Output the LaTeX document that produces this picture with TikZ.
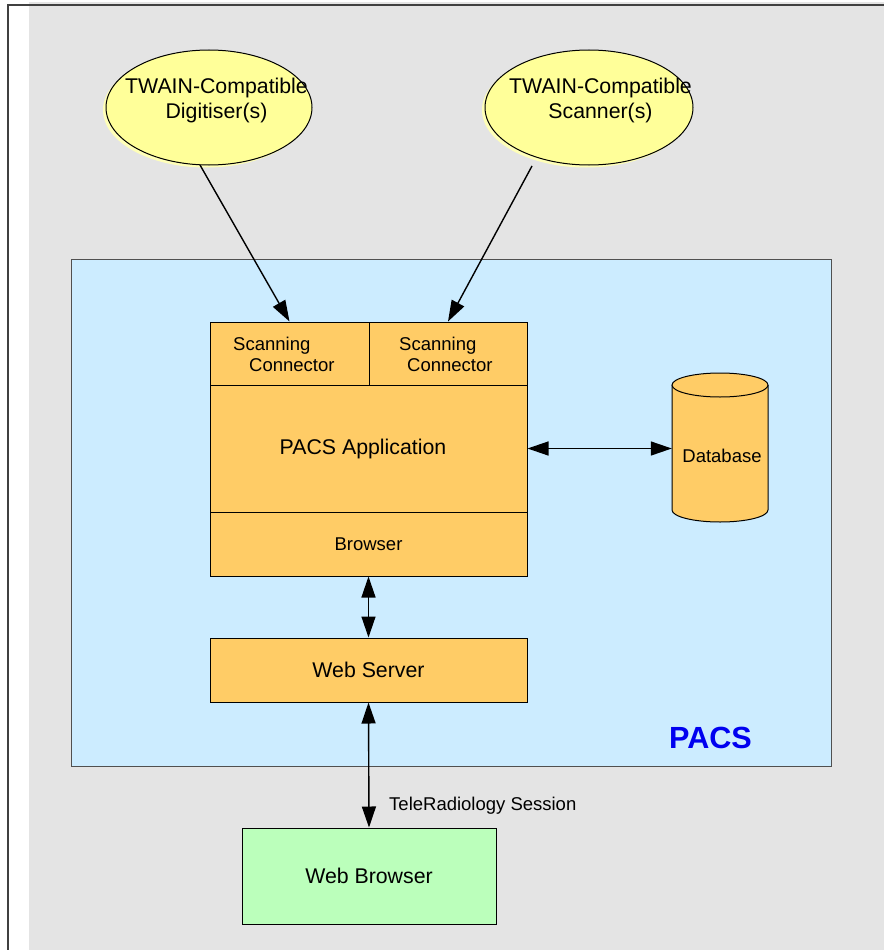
\documentclass[tikz,border=0pt]{standalone}
\usepackage{fontspec}
\setmainfont{Liberation Sans}
\usetikzlibrary{arrows.meta,shapes.geometric}
\definecolor{bggray}{HTML}{E4E4E4}
\definecolor{bordergray}{HTML}{404040}
\definecolor{pacsfill}{HTML}{CCECFF}
\definecolor{pacsline}{HTML}{505050}
\definecolor{orangebox}{HTML}{FFCC66}
\definecolor{yellowell}{HTML}{FFFF99}
\definecolor{yellowshadow}{HTML}{FFFFB8}
\definecolor{greenbox}{HTML}{BBFFBB}
\definecolor{pacsblue}{HTML}{0000F0}
\begin{document}
\begin{tikzpicture}[x=1pt,y=-1pt,
  box/.style={draw=black, line width=1pt, fill=orangebox, inner sep=0pt},
  ell/.style={ellipse, draw=black, line width=1pt, fill=yellowell, minimum width=206, minimum height=115, inner sep=0pt},
  bigtxt/.style={inner sep=0pt, font=\fontsize{21.3}{25}\selectfont, align=center},
  midtxt/.style={inner sep=0pt, font=\fontsize{18.5}{21}\selectfont, align=left},
  arr/.style={line width=1.4pt, -{Triangle[length=21pt,width=14pt]}},
  darr/.style={line width=1.4pt, {Triangle[length=21pt,width=14pt]}-{Triangle[length=21pt,width=14pt]}}
]
\useasboundingbox (0,0) rectangle (884,950);
\fill[white] (0,0) rectangle (884,950);
\fill[bggray] (29,2) rectangle (884,950);
\draw[bordergray, line width=1.5pt] (8,950) -- (8,5) -- (884,5);

% ellipses
\fill[yellowshadow] (206,110) ellipse [x radius=103pt, y radius=57.5pt];
\node[ell] (e1) at (209,107.5) {};
\node[bigtxt] (e1t) at (216.5,100) {TWAIN-Compatible\\Digitiser(s)};
\fill[yellowshadow] (586,110) ellipse [x radius=104pt, y radius=57.5pt];
\node[ell, minimum width=208] (e2) at (589,107.5) {};
\node[bigtxt] (e2t) at (600.5,100) {TWAIN-Compatible\\Scanner(s)};

% PACS container
\node[draw=pacsline, line width=1pt, fill=pacsfill, minimum width=760, minimum height=507, inner sep=0pt] (pacs) at (451,512.5) {};
\node[inner sep=0pt, text=pacsblue, font=\fontsize{30.6}{36}\selectfont\bfseries] (pacslbl) at (710.5,738) {PACS};

% application stack
\node[box, minimum width=159, minimum height=63] (sc1) at (289.5,353.5) {};
\node[box, minimum width=158, minimum height=63] (sc2) at (448,353.5) {};
\node[midtxt, anchor=west] (sc1t) at (233,354.5) {Scanning\\\hspace{16pt}Connector};
\node[midtxt, anchor=west] (sc2t) at (399,354.5) {Scanning\\\hspace{8pt}Connector};
\node[box, minimum width=317, minimum height=127] (app) at (368.5,448.5) {};
\node[bigtxt] (appt) at (363,449) {PACS Application};
\node[box, minimum width=317, minimum height=64, font=\fontsize{18.5}{21}\selectfont] (brw) at (368.5,544) {Browser};
\node[box, minimum width=317, minimum height=64, font=\fontsize{21.3}{25}\selectfont] (ws) at (368.5,670) {Web Server};

% database cylinder
\node[inner sep=0pt, minimum width=96, minimum height=149] (db) at (720,448.5) {};
\fill[orangebox] (672,385) rectangle (768,510);
\fill[orangebox] (720,510) ellipse [x radius=48pt, y radius=12pt];
\draw[line width=1pt] (672,385) -- (672,510) arc[start angle=180, end angle=360, x radius=48pt, y radius=12pt] -- (768,385);
\draw[line width=1pt, fill=orangebox] (720,385) ellipse [x radius=48pt, y radius=12pt];
\node[inner sep=0pt, font=\fontsize{18.5}{21}\selectfont] (dbt) at (722,456) {Database};

% web browser
\node[draw=black, line width=1pt, fill=greenbox, minimum width=254, minimum height=96, inner sep=0pt, font=\fontsize{21.3}{25}\selectfont] (wb) at (369,876) {Web Browser};
\node[inner sep=0pt, anchor=west, font=\fontsize{18.5}{21}\selectfont] (tele) at (389,806) {TeleRadiology Session};

% connectors
\coordinate (s1) at (200,165);
\coordinate (s2) at (532,166);
\draw[arr] (s1) -- (sc1.north);
\draw[arr] (s2) -- (sc2.north);
\draw[darr] (app.east) -- (db.west);
\draw[darr] (brw.south) -- (ws.north);
\draw[darr] (ws.south) -- (wb.north);
\end{tikzpicture}
\end{document}
